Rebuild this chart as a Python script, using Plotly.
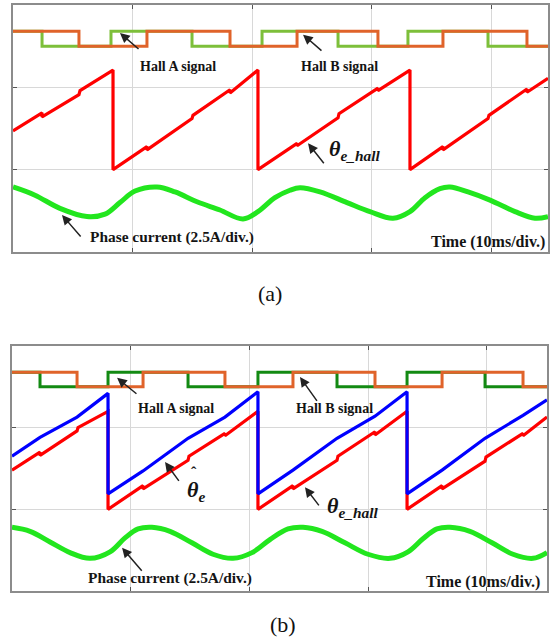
import plotly.graph_objects as go

# ---------------- data (time in ms, amplitude in divisions) ----------------
# Panel (a)
hall_a_edges_a = [0, 2.43, 8.20, 14.98, 20.84, 27.20, 33.05, 39.75, 44.77]
hall_a_state_a = [1, 0, 1, 0, 1, 0, 1, 0, 0]
hall_b_edges_a = [0, 5.52, 11.21, 18.16, 23.77, 30.54, 35.98, 43.01, 44.77]
hall_b_state_a = [1, 0, 1, 0, 1, 0, 1, 0, 0]

theta_hall_t_a = [0, 2.43, 2.43, 5.52, 5.61, 8.37, 8.37, 11.21, 11.21, 14.98, 15.06,
                  18.16, 18.16, 20.50, 20.50, 23.77, 23.77, 27.20, 27.28, 30.54, 30.54,
                  33.22, 33.22, 35.98, 35.98, 39.75, 39.83, 43.01, 43.01, 44.77]
theta_hall_v_a = [1.47, 1.69, 1.64, 1.91, 1.96, 2.21, 1.00, 1.28, 1.24, 1.62, 1.66,
                  1.97, 1.93, 2.21, 1.00, 1.32, 1.29, 1.63, 1.68, 1.99, 1.96,
                  2.21, 1.00, 1.28, 1.24, 1.62, 1.66, 1.98, 1.94, 2.11]

current_t_a = [0, 1.84, 3.93, 6.19, 7.70, 8.95, 10.21, 12.05, 13.56, 15.40, 17.32, 19.25,
               20.50, 21.92, 23.18, 24.02, 25.69, 27.95, 29.87, 31.80, 33.22, 34.48,
               35.73, 36.57, 38.08, 39.92, 42.01, 43.68, 44.77]
current_v_a = [0.79, 0.69, 0.53, 0.43, 0.46, 0.60, 0.74, 0.79, 0.73, 0.61, 0.51, 0.40,
               0.49, 0.66, 0.75, 0.78, 0.73, 0.60, 0.49, 0.41, 0.49, 0.66,
               0.77, 0.79, 0.73, 0.63, 0.49, 0.41, 0.43]

# Panel (b)
hall_a_edges_b = [0, 2.36, 8.09, 14.83, 20.72, 27.38, 33.28, 39.85, 45.07]
hall_a_state_b = [1, 0, 1, 0, 1, 0, 1, 0, 0]
hall_b_edges_b = [0, 5.48, 11.04, 17.94, 23.67, 30.58, 36.23, 43.05, 45.07]
hall_b_state_b = [1, 0, 1, 0, 1, 0, 1, 0, 0]

theta_hall_t_b = [0, 2.36, 2.36, 5.48, 5.56, 8.09, 8.09, 11.04, 11.04, 14.83, 14.91,
                  17.94, 17.94, 20.72, 20.72, 23.67, 23.67, 27.38, 27.46, 30.58, 30.58,
                  33.28, 33.28, 36.23, 36.23, 39.85, 39.93, 43.05, 43.05, 45.07]
theta_hall_v_b = [1.48, 1.70, 1.66, 1.96, 2.00, 2.20, 1.00, 1.29, 1.25, 1.60, 1.65,
                  1.93, 1.90, 2.20, 1.00, 1.29, 1.25, 1.60, 1.65, 1.95, 1.91,
                  2.20, 1.00, 1.29, 1.25, 1.59, 1.64, 1.93, 1.90, 2.13]

theta_est_t_b = [0, 2.36, 5.48, 8.09, 8.09, 11.04, 14.83, 17.94, 20.72, 20.72, 23.67,
                 27.38, 30.58, 33.28, 33.28, 36.23, 39.85, 43.05, 45.07]
theta_est_v_b = [1.65, 1.88, 2.13, 2.42, 1.19, 1.47, 1.87, 2.13, 2.44, 1.19, 1.48,
                 1.87, 2.14, 2.44, 1.19, 1.48, 1.87, 2.15, 2.34]

current_t_b = [0, 1.52, 3.20, 4.89, 6.57, 8.26, 9.52, 10.62, 11.79, 13.31, 15.16, 16.93,
               18.62, 20.22, 21.73, 23.25, 24.52, 26.12, 28.05, 29.99, 31.85, 33.36,
               34.62, 35.80, 36.90, 38.58, 40.44, 42.21, 43.89, 45.07]
current_v_b = [0.78, 0.73, 0.60, 0.47, 0.40, 0.48, 0.65, 0.76, 0.78, 0.73, 0.59, 0.45,
               0.40, 0.47, 0.63, 0.76, 0.78, 0.73, 0.59, 0.45, 0.40, 0.48,
               0.64, 0.76, 0.78, 0.73, 0.59, 0.45, 0.40, 0.47]

HALL_HIGH = 2.68
HALL_LOW = 2.50

# ---------------- styles ----------------
ORANGE = "#E0632A"
GREEN_A = "#7DBF3A"
GREEN_B = "#138A13"
RED = "#FF0000"
BLUE = "#0000FF"
CURRENT = "#22E61E"
FONT = "Liberation Serif, Times New Roman, serif"

fig = go.Figure()


def hall_levels(states):
    return [HALL_LOW + s * (HALL_HIGH - HALL_LOW) for s in states]


# panel (a)
fig.add_trace(go.Scatter(x=hall_a_edges_a, y=hall_levels(hall_a_state_a), mode="lines",
                         line=dict(color=GREEN_A, width=3, shape="hv"), xaxis="x", yaxis="y"))
fig.add_trace(go.Scatter(x=hall_b_edges_a, y=hall_levels(hall_b_state_a), mode="lines",
                         line=dict(color=ORANGE, width=3, shape="hv"), xaxis="x", yaxis="y"))
fig.add_trace(go.Scatter(x=theta_hall_t_a, y=theta_hall_v_a, mode="lines",
                         line=dict(color=RED, width=3.2), xaxis="x", yaxis="y"))
fig.add_trace(go.Scatter(x=current_t_a, y=current_v_a, mode="lines",
                         line=dict(color=CURRENT, width=5, shape="spline", smoothing=1.0),
                         xaxis="x", yaxis="y"))

# panel (b)
fig.add_trace(go.Scatter(x=hall_a_edges_b, y=hall_levels(hall_a_state_b), mode="lines",
                         line=dict(color=GREEN_B, width=3, shape="hv"), xaxis="x2", yaxis="y2"))
fig.add_trace(go.Scatter(x=hall_b_edges_b, y=hall_levels(hall_b_state_b), mode="lines",
                         line=dict(color=ORANGE, width=3, shape="hv"), xaxis="x2", yaxis="y2"))
fig.add_trace(go.Scatter(x=theta_hall_t_b, y=theta_hall_v_b, mode="lines",
                         line=dict(color=RED, width=3.2), xaxis="x2", yaxis="y2"))
fig.add_trace(go.Scatter(x=theta_est_t_b, y=theta_est_v_b, mode="lines",
                         line=dict(color=BLUE, width=3.2), xaxis="x2", yaxis="y2"))
fig.add_trace(go.Scatter(x=current_t_b, y=current_v_b, mode="lines",
                         line=dict(color=CURRENT, width=5, shape="spline", smoothing=1.0),
                         xaxis="x2", yaxis="y2"))

W, H = 553, 642


def ax_common():
    return dict(showticklabels=False, showgrid=True, gridcolor="#D8D8D8", gridwidth=1,
                zeroline=False, showline=True, linecolor="#8C8C8C", linewidth=1.6,
                mirror="ticks", ticks="inside", ticklen=4, tickcolor="#555555", tickwidth=1)


fig.update_layout(
    width=W, height=H, margin=dict(l=0, r=0, t=0, b=0),
    paper_bgcolor="white", plot_bgcolor="white", showlegend=False,
    xaxis=dict(domain=[13 / W, 548 / W], range=[0, 44.77], dtick=10, anchor="y", **ax_common()),
    yaxis=dict(domain=[1 - 252 / H, 1 - 5 / H], range=[0, 3], dtick=1, anchor="x", **ax_common()),
    xaxis2=dict(domain=[12 / W, 547 / W], range=[0, 45.07], dtick=10, anchor="y2", **ax_common()),
    yaxis2=dict(domain=[1 - 591 / H, 1 - 346 / H], range=[0, 3], dtick=1, anchor="x2", **ax_common()),
)

ann = []
LBL = dict(family=FONT, size=13, color="#141414")


def text(xr, yr, x, y, s, size=14, xanchor="center"):
    f = dict(LBL)
    f["size"] = size
    ann.append(dict(xref=xr, yref=yr, x=x, y=y, text=s, showarrow=False, font=f,
                    xanchor=xanchor, yanchor="middle"))


def arrow(xr, yr, tip, tail):
    ann.append(dict(xref=xr, yref=yr, axref=xr, ayref=yr, x=tip[0], y=tip[1],
                    ax=tail[0], ay=tail[1], text="", showarrow=True, arrowhead=2,
                    arrowsize=1.3, arrowwidth=1.5, arrowcolor="#222222"))


# (a) annotations
text("x", "y", 13.77, 2.25, "<b>Hall A signal</b>")
arrow("x", "y", (8.95, 2.66), (10.63, 2.45))
text("x", "y", 27.28, 2.25, "<b>Hall B signal</b>")
arrow("x", "y", (24.27, 2.64), (25.94, 2.43))
text("x", "y", 26.28, 1.24, "<b><i>θ</i></b><sub><b><i>e_hall</i></b></sub>", size=22, xanchor="left")
arrow("x", "y", (24.69, 1.32), (26.11, 1.06))
text("x", "y", 6.28, 0.18, "<b>Phase current (2.5A/div.)</b>", size=15.4, xanchor="left")
arrow("x", "y", (4.10, 0.45), (5.77, 0.17))
text("x", "y", 44.69, 0.12, "<b>Time (10ms/div.)</b>", size=16, xanchor="right")

# (b) annotations
text("x2", "y2", 13.82, 2.23, "<b>Hall A signal</b>")
arrow("x2", "y2", (8.85, 2.61), (10.61, 2.40))
text("x2", "y2", 27.13, 2.23, "<b>Hall B signal</b>")
arrow("x2", "y2", (24.26, 2.62), (25.78, 2.31))
text("x2", "y2", 14.55, 1.22, "<b><i>θ</i></b><sub><b><i>e</i></b></sub>", size=22, xanchor="left")
text("x2", "y2", 14.95, 1.45, "<b>ˆ</b>", size=16, xanchor="left")
arrow("x2", "y2", (12.89, 1.58), (14.15, 1.33))
text("x2", "y2", 26.37, 1.03, "<b><i>θ</i></b><sub><b><i>e_hall</i></b></sub>", size=22, xanchor="left")
arrow("x2", "y2", (24.68, 1.27), (25.95, 1.03))
text("x2", "y2", 6.23, 0.16, "<b>Phase current (2.5A/div.)</b>", size=15.4, xanchor="left")
arrow("x2", "y2", (9.27, 0.53), (11.04, 0.23))
text("x2", "y2", 44.65, 0.11, "<b>Time (10ms/div.)</b>", size=16, xanchor="right")

# panel captions
ann.append(dict(xref="paper", yref="paper", x=270 / W, y=1 - 294 / H, text="(a)", showarrow=False,
                font=dict(family=FONT, size=22, color="#111111"), xanchor="center", yanchor="middle"))
ann.append(dict(xref="paper", yref="paper", x=283 / W, y=1 - 624 / H, text="(b)", showarrow=False,
                font=dict(family=FONT, size=22, color="#111111"), xanchor="center", yanchor="middle"))

fig.update_layout(annotations=ann)
fig.write_html("out.html", config={"displayModeBar": False},
               post_script="document.body.style.margin='0px';")
